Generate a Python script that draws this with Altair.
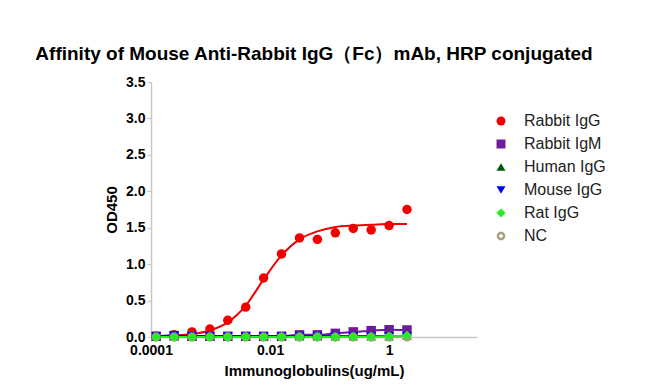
import altair as alt
import pandas as pd

# Concentrations (ug/mL), 2-fold dilution series
conc = [0.000122, 0.000244, 0.000488, 0.000977, 0.00195, 0.0039, 0.0078,
        0.0156, 0.0313, 0.0625, 0.125, 0.25, 0.5, 1, 2]

series_names = ["Rabbit IgG", "Rabbit IgM", "Human IgG", "Mouse IgG", "Rat IgG", "NC"]

rabbit_igg = [0.01, 0.03, 0.07, 0.11, 0.23, 0.41, 0.81, 1.14, 1.36, 1.34, 1.43, 1.49, 1.47, 1.53, 1.75]
rabbit_igm = [0.01, 0.02, 0.01, 0.01, 0.01, 0.01, 0.01, 0.01, 0.03, 0.03, 0.05, 0.07, 0.087, 0.10, 0.096]
human_igg = [0.01, 0.01, 0.01, 0.01, 0.01, 0.01, 0.01, 0.01, 0.01, 0.01, 0.01, 0.01, 0.01, 0.01, 0.015]
mouse_igg = [0.01, 0.02, 0.01, 0.01, 0.01, 0.01, 0.01, 0.01, 0.01, 0.01, 0.01, 0.01, 0.01, 0.01, 0.01]
rat_igg = [0.0, 0.0, 0.0, 0.0, 0.0, 0.0, 0.0, 0.0, 0.0, 0.0, 0.0, 0.005, 0.005, 0.01, 0.02]
nc = [0.0, 0.0, 0.0, 0.0, 0.0, 0.0, 0.0, 0.0, 0.0, 0.0, 0.0, 0.0, 0.0, 0.0, 0.0]

# Fitted curve for Rabbit IgG
fit_x = [0.000244, 0.000488, 0.000977, 0.00195, 0.0039, 0.0078, 0.0156,
         0.0313, 0.0625, 0.125, 0.25, 0.5, 1, 2]
fit_y = [0.02, 0.04, 0.09, 0.20, 0.43, 0.79, 1.12, 1.34, 1.45, 1.51, 1.53, 1.54, 1.55, 1.55]

x_tick_values = [0.0001, 0.01, 1]
y_tick_values = [0.0, 0.5, 1.0, 1.5, 2.0, 2.5, 3.0, 3.5]

color_map = {"Rabbit IgG": "#F00000", "Rabbit IgM": "#6E1A9C", "Human IgG": "#005A00",
             "Mouse IgG": "#0000EE", "Rat IgG": "#22EE22", "NC": "#A8A27C"}
ring = ("M0.924,0.383L0.383,0.924L-0.383,0.924L-0.924,0.383L-0.924,-0.383"
        "L-0.383,-0.924L0.383,-0.924L0.924,-0.383Z"
        "M0.416,0.172L0.416,-0.172L0.172,-0.416L-0.172,-0.416L-0.416,-0.172"
        "L-0.416,0.172L-0.172,0.416L0.172,0.416Z")
shapes = ["circle", "square", "triangle-up", "triangle-down", "diamond", ring]

values = {"Rabbit IgG": rabbit_igg, "Rabbit IgM": rabbit_igm, "Human IgG": human_igg,
          "Mouse IgG": mouse_igg, "Rat IgG": rat_igg, "NC": nc}
draw_order = ["Rabbit IgG", "Rabbit IgM", "Human IgG", "Mouse IgG", "NC", "Rat IgG"]

rows = []
for s in draw_order:
    for xv, yv in zip(conc, values[s]):
        rows.append({"series": s, "x": xv, "y": yv, "kind": "pt"})
for s in draw_order:
    if s == "Rabbit IgG":
        for xv, yv in zip(fit_x, fit_y):
            rows.append({"series": s, "x": xv, "y": yv, "kind": "ln"})
    else:
        for xv, yv in zip(conc, values[s]):
            rows.append({"series": s, "x": xv, "y": yv, "kind": "ln"})
df = pd.DataFrame(rows)

base = alt.Chart(df).encode(
    x=alt.X("x:Q", scale=alt.Scale(type="log", domain=[0.0001, 30], nice=False),
            axis=alt.Axis(values=x_tick_values, format="~g", title="Immunoglobulins(ug/mL)",
                          grid=False, labelFlush=False, labelOverlap=False)),
    y=alt.Y("y:Q", scale=alt.Scale(domain=[0, 3.5], nice=False, zero=False),
            axis=alt.Axis(values=y_tick_values, format=".1f", title="OD450",
                          grid=False, labelOverlap=False)),
)

# line stroke scale uses the drawing order as its domain so its (hidden) legend
# is not merged with the point legend
line_layer = base.transform_filter(alt.datum.kind == "ln").mark_line(
    strokeWidth=2, interpolate="monotone").encode(
    stroke=alt.Stroke("series:N",
                      scale=alt.Scale(domain=draw_order, range=[color_map[s] for s in draw_order]),
                      legend=None),
    detail="series:N",
)

point_layer = base.transform_filter(alt.datum.kind == "pt").mark_point(
    filled=True, size=90, opacity=1).encode(
    color=alt.Color("series:N",
                    scale=alt.Scale(domain=series_names, range=[color_map[s] for s in series_names]),
                    legend=alt.Legend(title=None, orient="none", legendX=342, legendY=31,
                                      labelFontSize=16, labelFont="Liberation Sans",
                                      labelColor="#222222", symbolSize=80, rowPadding=7,
                                      labelOffset=15)),
    shape=alt.Shape("series:N", scale=alt.Scale(domain=series_names, range=shapes)),
)

chart = alt.layer(line_layer, point_layer).properties(
    width=326, height=255,
    autosize="none",
    padding={"left": 143, "top": 74, "right": 170, "bottom": 43},
    title=alt.TitleParams("Affinity of  Mouse Anti-Rabbit IgG（Fc）mAb, HRP conjugated",
                          fontSize=19, font="Liberation Sans", fontWeight="bold",
                          anchor="middle", offset=11, color="#000000"),
).configure_view(stroke=None).configure_axis(
    labelFont="Liberation Sans", labelFontSize=14, labelFontWeight="bold", labelColor="#000000",
    titleFont="Liberation Sans", titleFontSize=15, titleFontWeight="bold", titleColor="#000000",
    domainColor="#C8C8C8", tickColor="#C8C8C8", tickSize=4, domainWidth=1.5,
).configure_axisY(titlePadding=6).configure_axisX(titlePadding=6)

chart.save("out.html", embed_options={"renderer": "svg", "actions": False})
